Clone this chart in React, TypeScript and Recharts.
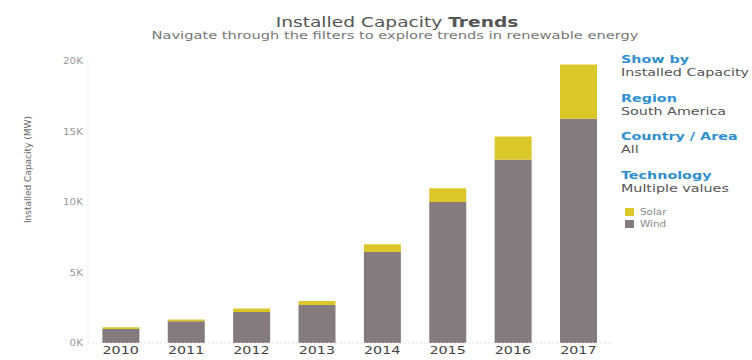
import React from 'react';
import { BarChart, Bar, XAxis, YAxis } from 'recharts';

const years = ['2010', '2011', '2012', '2013', '2014', '2015', '2016', '2017'];
const windValues = [1000, 1550, 2200, 2700, 6450, 10000, 13000, 15900];
const solarValues = [110, 120, 250, 270, 550, 980, 1650, 3850];
const yTicks = [0, 5000, 10000, 15000, 20000];
const filterItems = [
  { head: 'Show by', value: 'Installed Capacity' },
  { head: 'Region', value: 'South America' },
  { head: 'Country / Area', value: 'All' },
  { head: 'Technology', value: 'Multiple values' },
];
const seriesNames = ['Solar', 'Wind'];

const data = years.map((y, i) => ({ year: y, Wind: windValues[i], Solar: solarValues[i] }));

const FONT = '"DejaVu Sans", Verdana, sans-serif';
const WIND = '#857a7e';
const SOLAR = '#dcc72b';
const colors: Record<string, string> = { Solar: SOLAR, Wind: WIND };
const SX = 1.3;

const YLabel = (props: any) => {
  const vb = props.viewBox || {};
  const x = 28;
  const y = vb.y + vb.height * 0.385;
  return (
    <text x={x} y={y} transform={`rotate(-90, ${x}, ${y})`} textAnchor="middle" dominantBaseline="central"
      fontSize={9} fill="#666" fontFamily={FONT}>
      Installed Capacity (MW)
    </text>
  );
};

const YTick = (props: any) => {
  const { x, y, payload } = props;
  return (
    <g transform={`translate(${x},${y}) scale(${SX},1)`}>
      <text x={0} y={0} textAnchor="end" dominantBaseline="central" fontSize={8} fill="#999" fontFamily={FONT}>
        {`${payload.value / 1000}K`}
      </text>
    </g>
  );
};

const XTick = (props: any) => {
  const { x, y, payload } = props;
  return (
    <g transform={`translate(${x},${y}) scale(${SX},1)`}>
      <text x={0} y={0} dy="0.71em" textAnchor="middle" fontSize={11} fill="#444" fontFamily={FONT}>
        {payload.value}
      </text>
    </g>
  );
};

const stretch: React.CSSProperties = { transform: `scaleX(${SX})`, transformOrigin: 'left center', whiteSpace: 'nowrap' };

export default function App() {
  return (
    <div style={{ position: 'absolute', left: 0, top: 0, width: 752, height: 360, background: '#fff', fontFamily: FONT, overflow: 'hidden' }}>
      <div style={{ position: 'absolute', left: 97, width: 600, top: 14, textAlign: 'center', fontSize: 14, color: '#555', lineHeight: '16px', whiteSpace: 'nowrap', transform: 'scaleX(1.33)' }}>
        Installed Capacity <b>Trends</b>
      </div>
      <div style={{ position: 'absolute', left: 95, width: 600, top: 30, textAlign: 'center', fontSize: 11, color: '#777', lineHeight: '12px', whiteSpace: 'nowrap', transform: 'scaleX(1.33)' }}>
        Navigate through the filters to explore trends in renewable energy
      </div>
      <div style={{ position: 'absolute', left: 621, top: 53 }}>
        {filterItems.map((f) => (
          <div key={f.head} style={{ marginBottom: 12.5 }}>
            <div style={{ ...stretch, fontSize: 11, fontWeight: 'bold', color: '#2f8fcf', lineHeight: '13px' }}>{f.head}</div>
            <div style={{ ...stretch, fontSize: 11, color: '#555', lineHeight: '13px' }}>{f.value}</div>
          </div>
        ))}
      </div>
      <div style={{ position: 'absolute', left: 625, top: 206 }}>
        {seriesNames.map((n) => (
          <div key={n} style={{ display: 'flex', alignItems: 'center', height: 12, fontSize: 8, color: '#888' }}>
            <span style={{ display: 'inline-block', width: 9, height: 8, background: colors[n], marginRight: 6 }} />
            <span style={stretch}>{n}</span>
          </div>
        ))}
      </div>
      <div style={{ position: 'absolute', left: 0, top: 0 }}>
        <BarChart width={752} height={360} data={data} margin={{ top: 61, right: 141, bottom: 0, left: 0 }}
          barCategoryGap="22%">
          <XAxis dataKey="year" height={17} tickLine={false} tickSize={0} tickMargin={3}
            axisLine={{ stroke: '#e2e2e2', strokeDasharray: '2 2' }}
            tick={<XTick />} interval={0} />
          <YAxis width={88} domain={[0, 20000]} ticks={yTicks} tickLine={false} tickSize={0} tickMargin={5}
            axisLine={{ stroke: '#e2e2e2', strokeDasharray: '2 2' }}
            tick={<YTick />}
            label={<YLabel />} />
          <Bar dataKey="Wind" stackId="a" fill={WIND} isAnimationActive={false} />
          <Bar dataKey="Solar" stackId="a" fill={SOLAR} isAnimationActive={false} />
        </BarChart>
      </div>
    </div>
  );
}
